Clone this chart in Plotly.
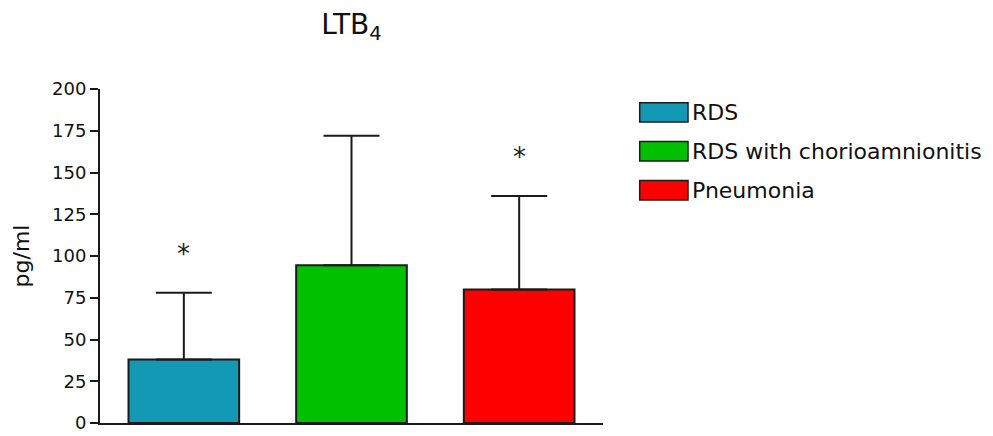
import plotly.graph_objects as go

# Group means and upper SD (pg/ml) for LTB4
groups = ["RDS", "RDS with chorioamnionitis", "Pneumonia"]
means = [38, 94.5, 80]
sd_upper = [40, 77.5, 56]
colors = ["#1399B5", "#00C000", "#FF0000"]
# Significance markers: group index and height where the star is drawn
star_groups = [0, 2]
star_heights = [101, 159]

FONT = "DejaVu Sans"
x_pos = list(range(len(groups)))

fig = go.Figure()
fig.add_trace(go.Bar(
    x=x_pos,
    y=means,
    width=0.66,
    marker=dict(color=colors, line=dict(color="#1a1a1a", width=2)),
    error_y=dict(type="data", symmetric=False, array=sd_upper,
                 arrayminus=[0] * len(groups), color="#1a1a1a",
                 thickness=2, width=28),
    showlegend=False,
    hoverinfo="skip",
))

# Significance asterisks
for g, h in zip(star_groups, star_heights):
    fig.add_annotation(x=x_pos[g], y=h, xref="x", yref="y", text="*",
                       showarrow=False, font=dict(family=FONT, size=26, color="#222"))

# Custom legend: wide swatches with labels, placed right of the plot
leg_x0, leg_x1 = 1.073, 1.169   # paper coords of swatch
leg_y_top = 0.93
leg_step = 0.1165
for i, (name, col) in enumerate(zip(groups, colors)):
    yc = leg_y_top - i * leg_step
    fig.add_shape(type="rect", xref="paper", yref="paper",
                  x0=leg_x0, x1=leg_x1, y0=yc - 0.029, y1=yc + 0.029,
                  fillcolor=col, line=dict(color="#1a1a1a", width=1.5))
    fig.add_annotation(xref="paper", yref="paper", x=leg_x1 + 0.003, y=yc,
                       xanchor="left", yanchor="middle", text=name,
                       showarrow=False, font=dict(family=FONT, size=22, color="#111"))

fig.update_layout(
    width=993, height=436,
    margin=dict(l=100, r=390, t=89, b=13, autoexpand=False),
    paper_bgcolor="white", plot_bgcolor="white",
    font=dict(family=FONT, color="#111"),
    title=dict(text="LTB<sub>4</sub>", x=0.5, xref="paper", xanchor="center",
               y=0.945, yanchor="middle", font=dict(family=FONT, size=28, color="#111")),
)
fig.update_xaxes(range=[-0.5, 2.5], showticklabels=False, ticks="",
                 showline=True, linecolor="#1a1a1a", linewidth=2,
                 showgrid=False, zeroline=False, fixedrange=True, automargin=False)
fig.update_yaxes(range=[0, 200], tickvals=[0, 25, 50, 75, 100, 125, 150, 175, 200],
                 ticks="outside", ticklen=8, tickwidth=2, tickcolor="#1a1a1a",
                 showline=True, linecolor="#1a1a1a", linewidth=2,
                 showgrid=False, zeroline=False, automargin=False,
                 tickfont=dict(family=FONT, size=18, color="#111"),
                 title=dict(text="pg/ml", font=dict(family=FONT, size=22, color="#111"),
                            standoff=16))

fig.write_html("out.html")
